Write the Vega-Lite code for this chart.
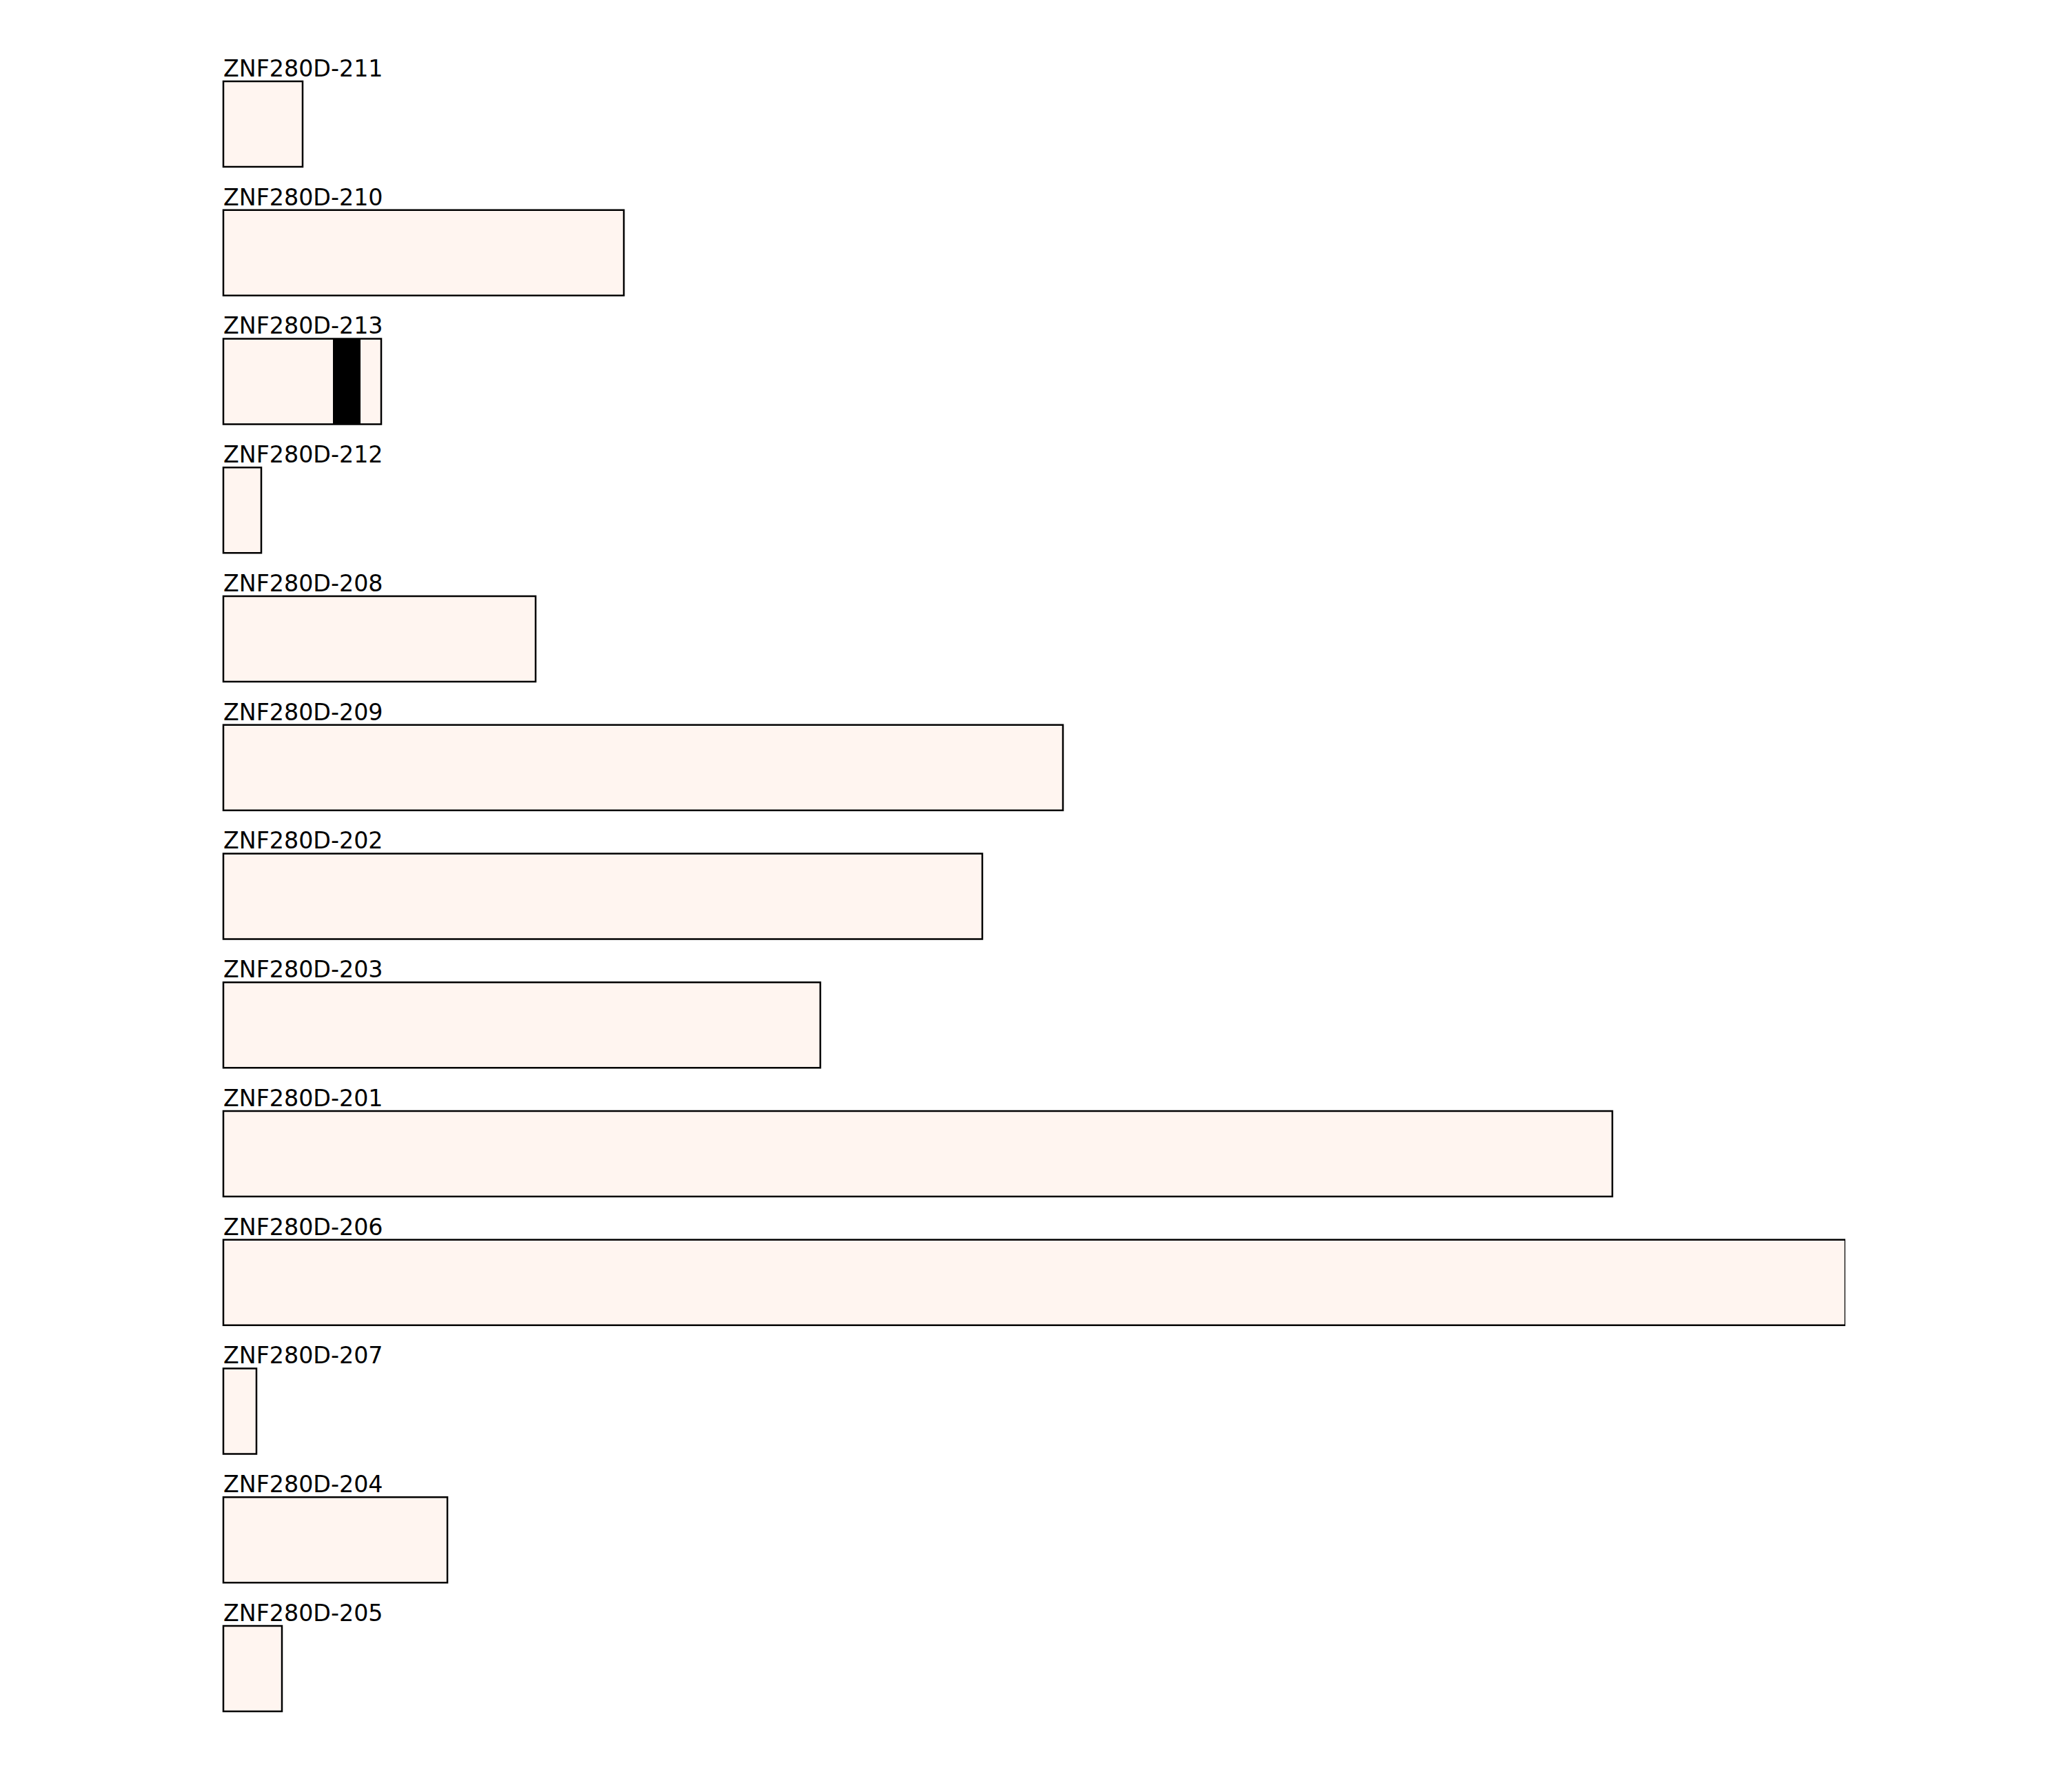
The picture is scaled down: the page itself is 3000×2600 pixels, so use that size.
{
  "$schema": "https://vega.github.io/schema/vega-lite/v6.json",
  "autosize": {"type": "none"},
  "padding": {"left": 324, "top": 86.6, "right": 0, "bottom": 0},
  "width": 2353,
  "height": 2427.75,
  "background": "white",
  "config": {"view": {"stroke": null}},
  "datasets": {
    "transcripts": [
      {"name": "ZNF280D-211", "start": 0, "length": 115},
      {"name": "ZNF280D-210", "start": 0, "length": 581},
      {"name": "ZNF280D-213", "start": 0, "length": 229},
      {"name": "ZNF280D-212", "start": 0, "length": 55},
      {"name": "ZNF280D-208", "start": 0, "length": 453},
      {"name": "ZNF280D-209", "start": 0, "length": 1218},
      {"name": "ZNF280D-202", "start": 0, "length": 1101},
      {"name": "ZNF280D-203", "start": 0, "length": 866},
      {"name": "ZNF280D-201", "start": 0, "length": 2015},
      {"name": "ZNF280D-206", "start": 0, "length": 2353},
      {"name": "ZNF280D-207", "start": 0, "length": 48},
      {"name": "ZNF280D-204", "start": 0, "length": 325},
      {"name": "ZNF280D-205", "start": 0, "length": 85}
    ],
    "segments": [
      {"name": "ZNF280D-213", "start": 159, "end": 199}
    ]
  },
  "encoding": {
    "y": {"field": "name", "type": "nominal", "sort": null, "axis": null,
          "scale": {"paddingInner": 0.336, "paddingOuter": 0.168}},
    "x": {"field": "start", "type": "quantitative", "axis": null,
          "scale": {"domain": [0, 2353], "nice": false, "zero": true}}
  },
  "layer": [
    {
      "data": {"name": "transcripts"},
      "mark": {"type": "bar", "fill": "#fff5f0", "stroke": "black", "strokeWidth": 2.5, "opacity": 1, "strokeOpacity": 1},
      "encoding": {
        "x2": {"field": "length"}
      }
    },
    {
      "data": {"name": "segments"},
      "mark": {"type": "bar", "fill": "black", "strokeWidth": 0, "opacity": 1},
      "encoding": {
        "x2": {"field": "end"}
      }
    },
    {
      "data": {"name": "transcripts"},
      "mark": {"type": "text", "align": "left", "baseline": "alphabetic", "dy": -69, "font": "DejaVu Sans", "fontSize": 33.3, "fill": "black"},
      "encoding": {
        "text": {"field": "name"}
      }
    }
  ]
}
